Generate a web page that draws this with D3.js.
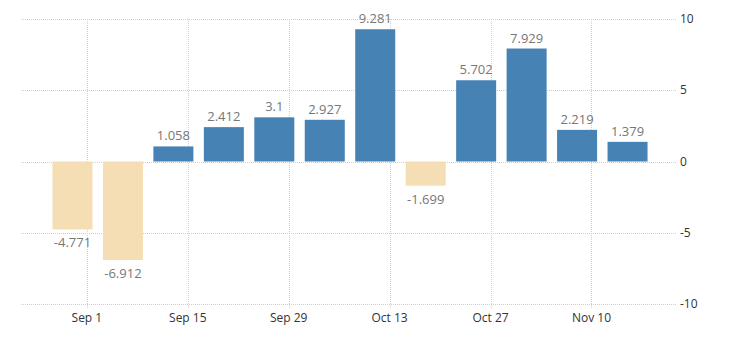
<!DOCTYPE html>
<html>
<head>
<meta charset="utf-8">
<script src="https://cdn.jsdelivr.net/npm/d3@7"></script>
<style>
  body { margin: 0; background: #fff; }
  svg text { font-family: "Open Sans", "Noto Sans", sans-serif; }
</style>
</head>
<body>
<script>
// weekly change, week ending (Fridays)
var weeks = ["2019-08-30", "2019-09-06", "2019-09-13", "2019-09-20", "2019-09-27", "2019-10-04",
  "2019-10-11", "2019-10-18", "2019-10-25", "2019-11-01", "2019-11-08", "2019-11-15"];
var values = [-4.771, -6.912, 1.058, 2.412, 3.1, 2.927, 9.281, -1.699, 5.702, 7.929, 2.219, 1.379];
var labels = ["-4.771", "-6.912", "1.058", "2.412", "3.1", "2.927", "9.281", "-1.699", "5.702", "7.929", "2.219", "1.379"];
var xTicks = ["2019-09-01", "2019-09-15", "2019-09-29", "2019-10-13", "2019-10-27", "2019-11-10"];
var yTicks = [-10, -5, 0, 5, 10];

var width = 730, height = 340;
var parse = d3.timeParse("%Y-%m-%d");
var fmt = d3.timeFormat("%b %-d");

var svg = d3.select("body").append("svg")
  .attr("width", width)
  .attr("height", height);

var x = d3.scaleTime()
  .domain([parse("2019-08-23"), parse("2019-11-22")])
  .range([22, 678]);
var y = d3.scaleLinear()
  .domain([-10, 10])
  .range([304, 19]);

var barW = 40;

// horizontal grid
svg.append("g")
  .selectAll("line")
  .data(yTicks)
  .enter()
  .append("line")
  .attr("x1", 21)
  .attr("x2", 677)
  .attr("y1", d => Math.round(y(d)) + 0.5)
  .attr("y2", d => Math.round(y(d)) + 0.5)
  .attr("stroke", "#cfcfcf")
  .attr("stroke-dasharray", "1,1");

// vertical grid + ticks
svg.append("g")
  .selectAll("line")
  .data(xTicks)
  .enter()
  .append("line")
  .attr("x1", d => Math.round(x(parse(d))) + 0.5)
  .attr("x2", d => Math.round(x(parse(d))) + 0.5)
  .attr("y1", 19)
  .attr("y2", 309)
  .attr("stroke", "#cfcfcf")
  .attr("stroke-dasharray", "1,1");

// bars
svg.append("g")
  .selectAll("rect")
  .data(values)
  .enter()
  .append("rect")
  .attr("x", (d, i) => x(parse(weeks[i])) - barW / 2)
  .attr("width", barW)
  .attr("y", d => y(Math.max(0, d)))
  .attr("height", d => Math.abs(y(d) - y(0)))
  .attr("fill", d => d < 0 ? "#f5deb3" : "#4682b4");

// value labels
svg.append("g")
  .selectAll("text")
  .data(values)
  .enter()
  .append("text")
  .attr("x", (d, i) => x(parse(weeks[i])))
  .attr("y", d => d < 0 ? y(d) + 18 : y(d) - 6)
  .attr("text-anchor", "middle")
  .attr("font-size", "13px")
  .attr("fill", "#777")
  .text((d, i) => labels[i]);

// x axis labels
svg.append("g")
  .selectAll("text")
  .data(xTicks)
  .enter()
  .append("text")
  .attr("x", d => x(parse(d)))
  .attr("y", 322)
  .attr("text-anchor", "middle")
  .attr("font-size", "12px")
  .attr("fill", "#333")
  .text(d => fmt(parse(d)));

// y axis labels (right side)
svg.append("g")
  .selectAll("text")
  .data(yTicks)
  .enter()
  .append("text")
  .attr("x", 680)
  .attr("y", d => y(d) + 4)
  .attr("font-size", "12px")
  .attr("fill", "#333")
  .text(d => d);
</script>
</body>
</html>
